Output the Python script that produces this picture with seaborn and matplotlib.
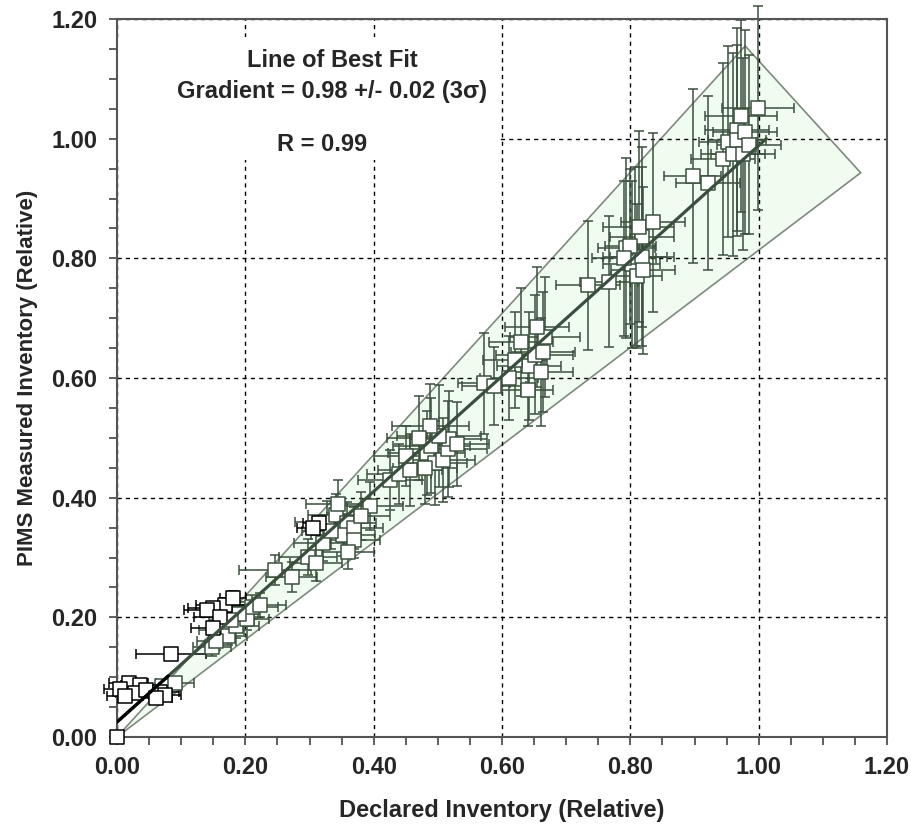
import matplotlib
matplotlib.use("Agg")
import matplotlib.pyplot as plt
from matplotlib.patches import Polygon, Rectangle
from matplotlib.ticker import MultipleLocator, FormatStrFormatter
import seaborn as sns
import pandas as pd

# declared (x) vs PIMS measured (y), with error bars
declared = [0.000, 0.018, 0.036, 0.005, 0.028, 0.012, 0.045, 0.067, 0.075, 0.060,
            0.084, 0.168, 0.181, 0.150, 0.140, 0.160, 0.150, 0.315, 0.305,
            0.070, 0.090, 0.163, 0.148, 0.173, 0.186, 0.202, 0.211, 0.223, 0.190, 0.155, 0.178,
            0.246, 0.272, 0.298, 0.321, 0.327, 0.342, 0.358, 0.352, 0.334, 0.395, 0.370,
            0.345, 0.310, 0.370, 0.380, 0.360,
            0.425, 0.440, 0.457, 0.483, 0.490, 0.496, 0.508, 0.516, 0.517, 0.502, 0.488,
            0.470, 0.530, 0.480, 0.450,
            0.572, 0.588, 0.611, 0.642, 0.651, 0.664, 0.667, 0.655, 0.630, 0.660, 0.640, 0.620,
            0.734, 0.767, 0.802, 0.807, 0.818, 0.794, 0.818, 0.813, 0.835, 0.800, 0.810,
            0.820, 0.790,
            0.897, 0.921, 0.944, 0.952, 0.960, 0.966, 0.966, 0.973, 0.976, 0.979, 0.999, 0.985]
measured = [0.000, 0.090, 0.087, 0.080, 0.073, 0.068, 0.078, 0.076, 0.070, 0.065,
            0.139, 0.221, 0.232, 0.215, 0.212, 0.200, 0.183, 0.357, 0.350,
            0.085, 0.090, 0.179, 0.151, 0.168, 0.185, 0.198, 0.218, 0.221, 0.205, 0.160, 0.195,
            0.279, 0.268, 0.301, 0.324, 0.360, 0.371, 0.358, 0.338, 0.344, 0.386, 0.350,
            0.390, 0.290, 0.330, 0.370, 0.310,
            0.430, 0.440, 0.446, 0.475, 0.487, 0.458, 0.463, 0.481, 0.498, 0.503, 0.520,
            0.500, 0.490, 0.450, 0.470,
            0.591, 0.587, 0.600, 0.620, 0.639, 0.644, 0.669, 0.685, 0.660, 0.610, 0.580, 0.630,
            0.755, 0.761, 0.790, 0.803, 0.803, 0.817, 0.836, 0.853, 0.860, 0.820, 0.770,
            0.780, 0.800,
            0.938, 0.926, 0.966, 0.995, 0.974, 1.015, 0.997, 1.038, 0.974, 1.011, 1.051, 0.990]
declared_err = [0.004, 0.030, 0.030, 0.025, 0.030, 0.028, 0.030, 0.030, 0.025, 0.025,
                0.055, 0.045, 0.020, 0.040, 0.035, 0.040, 0.035, 0.025, 0.025,
                0.030, 0.030, 0.035, 0.030, 0.030, 0.035, 0.035, 0.040, 0.040, 0.030, 0.030, 0.035,
                0.056, 0.040, 0.045, 0.045, 0.050, 0.045, 0.045, 0.050, 0.045, 0.050, 0.045,
                0.050, 0.040, 0.040, 0.045, 0.040,
                0.050, 0.050, 0.050, 0.060, 0.060, 0.050, 0.050, 0.060, 0.060, 0.065, 0.060,
                0.050, 0.050, 0.050, 0.050,
                0.040, 0.050, 0.045, 0.050, 0.060, 0.050, 0.055, 0.050, 0.050, 0.050, 0.040, 0.050,
                0.050, 0.045, 0.045, 0.050, 0.050, 0.045, 0.050, 0.055, 0.050, 0.040, 0.040,
                0.050, 0.050,
                0.045, 0.050, 0.050, 0.045, 0.050, 0.050, 0.045, 0.056, 0.050, 0.050, 0.056, 0.050]
measured_err = [0.004, 0.006, 0.006, 0.005, 0.006, 0.005, 0.006, 0.008, 0.008, 0.006,
                0.005, 0.012, 0.012, 0.008, 0.008, 0.008, 0.008, 0.010, 0.010,
                0.010, 0.010, 0.015, 0.015, 0.015, 0.020, 0.020, 0.020, 0.020, 0.020, 0.015, 0.020,
                0.025, 0.025, 0.030, 0.030, 0.035, 0.035, 0.035, 0.035, 0.030, 0.040, 0.035,
                0.040, 0.030, 0.030, 0.040, 0.030,
                0.050, 0.050, 0.060, 0.070, 0.080, 0.070, 0.070, 0.080, 0.080, 0.085, 0.070,
                0.070, 0.070, 0.060, 0.050,
                0.085, 0.065, 0.070, 0.090, 0.100, 0.100, 0.100, 0.100, 0.090, 0.090, 0.060, 0.080,
                0.108, 0.110, 0.140, 0.150, 0.150, 0.150, 0.150, 0.160, 0.150, 0.130, 0.120,
                0.140, 0.130,
                0.145, 0.145, 0.160, 0.160, 0.170, 0.170, 0.160, 0.160, 0.160, 0.170, 0.170, 0.150]
n_black = 19  # first points (low inventories) are drawn in black

band_x = [0.0, 0.979, 1.159]
band_y = [0.0, 1.155, 0.943]
fit_x = [0.0, 1.012]
fit_y = [0.025, 1.0]

df = pd.DataFrame({"declared": declared, "measured": measured,
                   "xerr": declared_err, "yerr": measured_err})
df["group"] = ["black"] * n_black + ["green"] * (len(df) - n_black)

sns.set_style("ticks")
plt.rcParams["font.family"] = ["Liberation Sans", "DejaVu Sans"]
plt.rcParams["font.weight"] = "bold"

green = "#3b4f3d"
fig = plt.figure(figsize=(9.11, 8.27), dpi=100)
ax = fig.add_axes([117 / 911, 1 - 737 / 827, 770 / 911, 718 / 827])

ax.add_patch(Polygon(list(zip(band_x, band_y)), closed=True, facecolor="#effcef",
                     edgecolor="#7d8a7d", linewidth=1.2, zorder=0.3))
# white box behind the annotation hides the grid there
ax.add_patch(Rectangle((0.0, 0.965), 0.595, 0.205, facecolor="white", edgecolor="none",
                       zorder=0.9))

for grp, col in [("green", green), ("black", "black")]:
    d = df[df["group"] == grp]
    ax.errorbar(d["declared"], d["measured"], xerr=d["xerr"], yerr=d["yerr"], fmt="none",
                ecolor=col, elinewidth=1.1, capsize=3.5, capthick=1.1, zorder=2, clip_on=False)
for grp, col in [("green", green), ("black", "black")]:
    d = df[df["group"] == grp]
    sns.scatterplot(data=d, x="declared", y="measured", marker="s", s=95,
                    facecolor="white", edgecolor=col, linewidth=1.1, ax=ax, zorder=3,
                    clip_on=False)

sns.lineplot(x=fit_x, y=fit_y, color=green, linewidth=2.3, ax=ax, zorder=5)
ax.plot([0.0, 0.08], [0.025, 0.025 + 0.08 * 0.964], color="black", linewidth=2.3, zorder=5)

ax.set_xlim(0, 1.2)
ax.set_ylim(0, 1.2)
ax.xaxis.set_major_locator(MultipleLocator(0.2))
ax.yaxis.set_major_locator(MultipleLocator(0.2))
ax.xaxis.set_minor_locator(MultipleLocator(0.05))
ax.yaxis.set_minor_locator(MultipleLocator(0.05))
ax.xaxis.set_major_formatter(FormatStrFormatter("%.2f"))
ax.yaxis.set_major_formatter(FormatStrFormatter("%.2f"))
ax.tick_params(which="both", direction="out", length=6, width=1.2, color="#444444",
               labelsize=17, pad=8)
ax.grid(True, which="major", color="black", linestyle=(0, (3, 3)), linewidth=1.0)
ax.set_axisbelow(True)
for s in ax.spines.values():
    s.set_color("#555555")
    s.set_linewidth(1.5)

ax.set_xlabel("Declared Inventory (Relative)", fontsize=17, fontweight="bold", labelpad=14)
ax.set_ylabel("PIMS Measured Inventory (Relative)", fontsize=16, fontweight="bold",
              labelpad=10)

ax.text(0.335, 1.130, "Line of Best Fit", ha="center", va="center", fontsize=17,
        fontweight="bold")
ax.text(0.335, 1.078, "Gradient = 0.98 +/- 0.02 (3\u03c3)", ha="center", va="center",
        fontsize=17, fontweight="bold")
ax.text(0.32, 0.99, "R = 0.99", ha="center", va="center", fontsize=17, fontweight="bold")

fig.savefig("out.png", dpi=100)
